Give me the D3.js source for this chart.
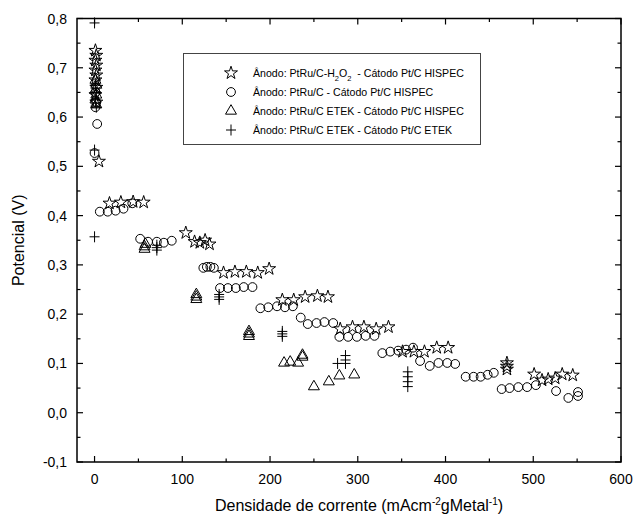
<!DOCTYPE html>
<html>
<head>
<meta charset="utf-8">
<script src="https://cdn.jsdelivr.net/npm/d3@7"></script>
<style>
  body { margin: 0; background: #fff; }
  svg text { font-family: "Liberation Sans", Arial, sans-serif; fill: #000; }
</style>
</head>
<body>
<svg id="chart" width="637" height="520" font-family="Liberation Sans, Arial, sans-serif"></svg>
<script>
// series: [current density, potential]
const starData = [
  [1,0.735],[2,0.725],[1,0.715],[2,0.705],[1,0.695],[2,0.685],[1,0.675],[2,0.66],[1,0.645],[2,0.63],[5,0.51],
  [17,0.425],[30,0.427],[44,0.428],[56,0.427],
  [104,0.365],[114,0.347],[120,0.345],[126,0.35],[131,0.342],
  [147,0.284],[160,0.286],[173,0.286],[186,0.284],[199,0.292],
  [214,0.229],[227,0.229],[240,0.235],[254,0.237],[266,0.235],
  [280,0.170],[294,0.174],[307,0.174],[321,0.170],[335,0.174],
  [351,0.124],[364,0.124],[376,0.124],[390,0.132],[403,0.132],
  [470,0.101],[470,0.094],[470,0.088],
  [501,0.078],[510,0.066],[517,0.068],[525,0.070],[533,0.078],[545,0.076]
];
const circleData = [
  [3,0.586],[0,0.527],[1,0.65],[2,0.63],[1,0.62],
  [6,0.408],[15,0.408],[24,0.410],[33,0.414],[43,0.425],
  [52,0.353],[61,0.347],[71,0.347],[79,0.345],[88,0.349],
  [124,0.294],[128,0.296],[132,0.296],[136,0.294],
  [143,0.253],[152,0.253],[161,0.253],[170,0.255],[180,0.255],
  [189,0.212],[198,0.214],[208,0.216],[217,0.214],[226,0.216],
  [235,0.193],[243,0.180],[253,0.182],[262,0.184],[272,0.182],
  [279,0.154],[289,0.154],[299,0.154],[309,0.156],[319,0.156],
  [328,0.121],[337,0.124],[346,0.126],[355,0.128],[363,0.132],
  [371,0.105],[382,0.095],[392,0.101],[402,0.101],[411,0.099],
  [423,0.073],[432,0.073],[440,0.073],[448,0.077],[455,0.081],
  [464,0.048],[473,0.050],[483,0.052],[493,0.052],[503,0.056],
  [526,0.044],[540,0.030],[551,0.034],[551,0.042]
];
const triangleData = [
  [1,0.675],[2,0.665],[1,0.655],[2,0.645],[1,0.635],[2,0.625],
  [57,0.332],[57,0.337],[58,0.342],
  [116,0.230],[116,0.235],[116,0.240],
  [176,0.155],[176,0.160],[176,0.165],
  [216,0.101],[223,0.103],[232,0.101],[237,0.113],[237,0.117],
  [250,0.053],[267,0.063],[279,0.075],[296,0.077]
];
const plusData = [
  [0,0.791],[0,0.533],[0,0.357],
  [1,0.665],[2,0.650],[1,0.635],[2,0.620],
  [71,0.330],[71,0.335],[71,0.340],
  [142,0.230],[142,0.235],[142,0.240],
  [214,0.155],[214,0.160],[214,0.165],
  [277,0.100],[286,0.100],[286,0.107],[286,0.116],
  [357,0.053],[357,0.063],[357,0.073],[357,0.083]
];
const xTicks = [0, 100, 200, 300, 400, 500, 600];
const yTicks = [-0.1, 0, 0.1, 0.2, 0.3, 0.4, 0.5, 0.6, 0.7, 0.8];
const legendLabels = [
  "Ânodo: PtRu/C-H₂O₂ - Cátodo Pt/C HISPEC",
  "Ânodo: PtRu/C - Cátodo Pt/C HISPEC",
  "Ânodo: PtRu/C ETEK - Cátodo Pt/C HISPEC",
  "Ânodo: PtRu/C ETEK - Cátodo Pt/C ETEK"
];

const svg = d3.select("#chart");
const margin = {top: 18.5, right: 16, bottom: 58, left: 77};
const width = 637, height = 520;

const x = d3.scaleLinear().domain([-20, 600]).range([margin.left, width - margin.right]);
const y = d3.scaleLinear().domain([-0.1, 0.8]).range([height - margin.bottom, margin.top]);

const fmt = d => d3.format(".1f")(d).replace(".", ",").replace("−", "-");

// inward ticks on all four sides
const xMinor = d3.range(0, 601, 50);
const yMinor = d3.range(-0.1, 0.801, 0.05);
const gAx = svg.append("g").attr("stroke", "#000").attr("stroke-width", 1.2);
xMinor.forEach(v => {
  const len = (Math.round(v) % 100 === 0) ? 6 : 3.5;
  gAx.append("line").attr("x1", x(v)).attr("x2", x(v)).attr("y1", y(-0.1)).attr("y2", y(-0.1) - len);
  gAx.append("line").attr("x1", x(v)).attr("x2", x(v)).attr("y1", y(0.8)).attr("y2", y(0.8) + len);
});
yMinor.forEach((v, i) => {
  const len = (i % 2 === 0) ? 6 : 3.5;
  gAx.append("line").attr("x1", x(-20)).attr("x2", x(-20) + len).attr("y1", y(v)).attr("y2", y(v));
  gAx.append("line").attr("x1", x(600)).attr("x2", x(600) - len).attr("y1", y(v)).attr("y2", y(v));
});
svg.append("rect")
  .attr("x", x(-20)).attr("y", y(0.8))
  .attr("width", x(600) - x(-20)).attr("height", y(-0.1) - y(0.8))
  .attr("fill", "none").attr("stroke", "#000").attr("stroke-width", 1.5);

svg.append("g").selectAll("text").data(xTicks).enter().append("text")
  .attr("x", d => x(d)).attr("y", y(-0.1) + 22)
  .attr("text-anchor", "middle").style("font-size", "14px")
  .text(d => d);
svg.append("g").selectAll("text").data(yTicks).enter().append("text")
  .attr("x", x(-20) - 10).attr("y", d => y(d) + 5)
  .attr("text-anchor", "end").style("font-size", "14px")
  .text(d => fmt(d));

// axis titles
const xt = svg.append("text").attr("x", (x(-20) + x(600)) / 2 + 10).attr("y", 511)
  .attr("text-anchor", "middle").style("font-size", "16px");
xt.append("tspan").text("Densidade de corrente (mAcm");
xt.append("tspan").attr("dy", -6).style("font-size", "10px").text("-2");
xt.append("tspan").attr("dy", 6).text("gMetal");
xt.append("tspan").attr("dy", -6).style("font-size", "10px").text("-1");
xt.append("tspan").attr("dy", 6).text(")");

svg.append("text")
  .attr("transform", `translate(24,${(y(0.8) + y(-0.1)) / 2}) rotate(-90)`)
  .attr("text-anchor", "middle").style("font-size", "16px")
  .text("Potencial (V)");

// symbols
const starPath = d3.symbol().type(d3.symbolStar).size(52)();
const triPath = d3.symbol().type(d3.symbolTriangle).size(52)();
const plusPath = "M-5,0H5M0,-5.5V5.5";

const plot = svg.append("g").attr("fill", "none").attr("stroke", "#000").attr("stroke-width", 1);

plot.selectAll(".circ").data(circleData).enter().append("circle")
  .attr("cx", d => x(d[0])).attr("cy", d => y(d[1])).attr("r", 4.4);
plot.selectAll(".tri").data(triangleData).enter().append("path")
  .attr("d", triPath).attr("transform", d => `translate(${x(d[0])},${y(d[1])})`);
plot.selectAll(".plus").data(plusData).enter().append("path")
  .attr("d", plusPath).attr("transform", d => `translate(${x(d[0])},${y(d[1])})`);
plot.selectAll(".star").data(starData).enter().append("path")
  .attr("d", starPath).attr("transform", d => `translate(${x(d[0])},${y(d[1])})`);

// legend
const lg = svg.append("g");
lg.append("rect").attr("x", 183.5).attr("y", 53.5).attr("width", 297).attr("height", 91)
  .attr("fill", "#fff").attr("stroke", "#444").attr("stroke-width", 1);
const rows = [73, 92, 111, 130];
const syms = [starPath, null, triPath, plusPath];
rows.forEach((ry, i) => {
  if (i === 1) {
    lg.append("circle").attr("cx", 231).attr("cy", ry).attr("r", 4.4)
      .attr("fill", "none").attr("stroke", "#000");
  } else {
    lg.append("path").attr("d", syms[i]).attr("transform", `translate(231,${ry})`)
      .attr("fill", "none").attr("stroke", "#000");
  }
});
const fs = "10.6px";
const t0 = lg.append("text").attr("x", 253).attr("y", rows[0] + 4).style("font-size", fs);
t0.append("tspan").text("Ânodo: PtRu/C-H");
t0.append("tspan").attr("dy", 4).style("font-size", "7.5px").text("2");
t0.append("tspan").attr("dy", -4).text("O");
t0.append("tspan").attr("dy", 4).style("font-size", "7.5px").text("2");
t0.append("tspan").attr("dy", -4).text("\u00a0 - Cátodo Pt/C HISPEC");
legendLabels.slice(1).forEach((lab, i) => {
  lg.append("text").attr("x", 253).attr("y", rows[i + 1] + 4).style("font-size", fs).text(lab);
});
</script>
</body>
</html>
